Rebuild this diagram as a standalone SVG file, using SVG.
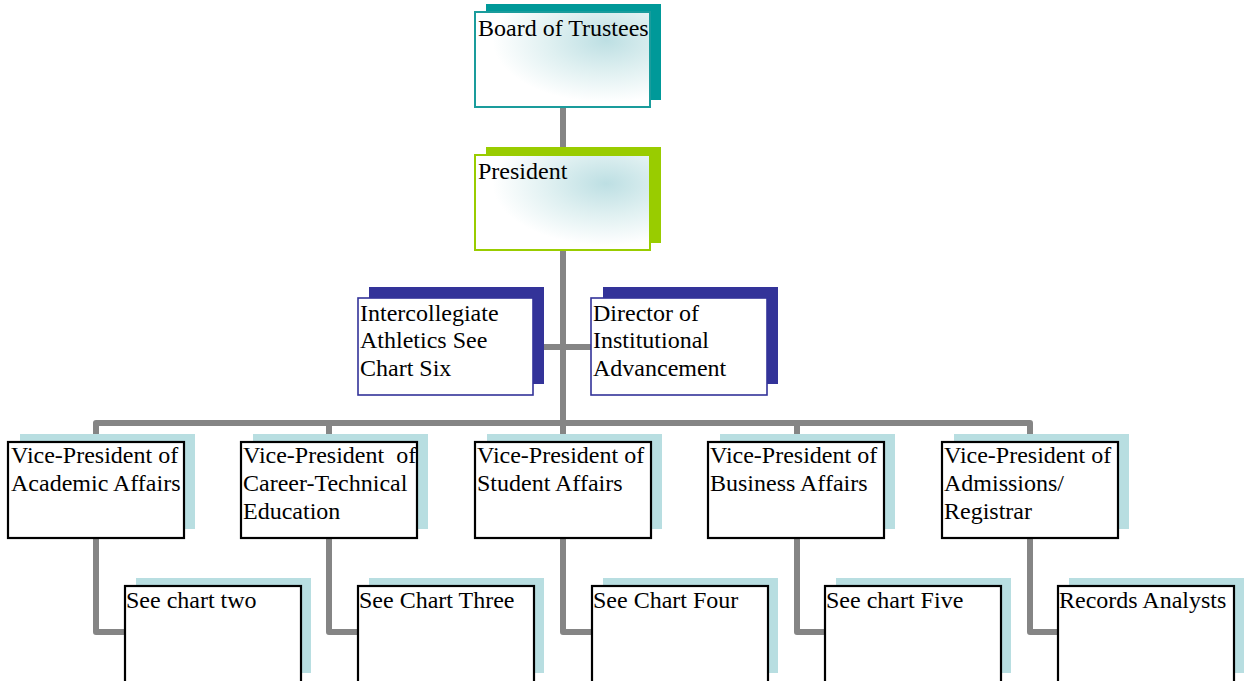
<svg xmlns="http://www.w3.org/2000/svg" width="1244" height="681" viewBox="0 0 1244 681">
<style>
text{font-family:"Liberation Serif","Times New Roman",serif;font-size:24px;fill:#000}
.conn{fill:none;stroke:#858585;stroke-width:6;stroke-linejoin:round;stroke-linecap:butt}
.shLight{fill:#b8dee1}
.box{fill:#fff;stroke:#000;stroke-width:2.2}
.navyS{fill:#333399}
.navyB{fill:#fff;stroke:#333399;stroke-width:1.6}
</style>
<defs>
<radialGradient id="glow" cx="0.75" cy="0.3" r="0.65">
<stop offset="0" stop-color="#bddfe3"/>
<stop offset="0.5" stop-color="#dff0f1"/>
<stop offset="1" stop-color="#ffffff"/>
</radialGradient>
</defs>
<rect width="1244" height="681" fill="#fff"/>
<g id="connectors">
<path class="conn" d="M563 108V155M563 251V423"/>
<path class="conn" d="M533 347H591"/>
<path class="conn" d="M96 442V423H1030V442M329 423V442M563 423V442M797 423V442"/>
<path class="conn" d="M96 538V632H125M329 538V632H358M563 538V632H592M797 538V632H825M1030 538V632H1058"/>
</g>
<g id="board">
<rect x="486" y="4" width="175" height="96" fill="#009999"/>
<rect x="475" y="12" width="175" height="95" fill="url(#glow)" stroke="#1a9c9c" stroke-width="2"/>
<text x="478" y="36">Board of Trustees</text>
</g>
<g id="president">
<rect x="486" y="147" width="175" height="96" fill="#99cc00"/>
<rect x="475" y="155" width="175" height="95" fill="url(#glow)" stroke="#99cc00" stroke-width="2"/>
<text x="478" y="179">President</text>
</g>
<g id="athletics">
<rect class="navyS" x="369" y="287" width="175" height="97"/>
<rect class="navyB" x="358" y="298" width="175" height="97"/>
<text x="360" y="321">Intercollegiate</text>
<text x="360" y="348">Athletics See</text>
<text x="360" y="376">Chart Six</text>
</g>
<g id="advancement">
<rect class="navyS" x="603" y="287" width="175" height="97"/>
<rect class="navyB" x="591" y="298" width="176" height="97"/>
<text x="593" y="321">Director of</text>
<text x="593" y="348">Institutional</text>
<text x="593" y="376">Advancement</text>
</g>
<g id="vp-academic">
<rect class="shLight" x="20" y="434" width="175" height="95"/>
<rect class="box" x="8" y="442" width="176" height="96"/>
<text x="11" y="463">Vice-President of</text>
<text x="11" y="491">Academic Affairs</text>
</g>
<g id="vp-career">
<rect class="shLight" x="253" y="434" width="175" height="95"/>
<rect class="box" x="241" y="442" width="176" height="96"/>
<text x="243" y="463" xml:space="preserve">Vice-President  of</text>
<text x="243" y="491">Career-Technical</text>
<text x="243" y="519">Education</text>
</g>
<g id="vp-student">
<rect class="shLight" x="487" y="434" width="175" height="95"/>
<rect class="box" x="475" y="442" width="176" height="96"/>
<text x="477" y="463">Vice-President of</text>
<text x="477" y="491">Student Affairs</text>
</g>
<g id="vp-business">
<rect class="shLight" x="720" y="434" width="175" height="95"/>
<rect class="box" x="708" y="442" width="176" height="96"/>
<text x="710" y="463">Vice-President of</text>
<text x="710" y="491">Business Affairs</text>
</g>
<g id="vp-admissions">
<rect class="shLight" x="954" y="434" width="175" height="95"/>
<rect class="box" x="942" y="442" width="176" height="96"/>
<text x="944" y="463">Vice-President of</text>
<text x="944" y="491">Admissions/</text>
<text x="944" y="519">Registrar</text>
</g>
<g id="chart-two">
<rect class="shLight" x="136" y="578" width="175" height="95"/>
<rect class="box" x="125" y="586" width="176" height="97"/>
<text x="126" y="608">See chart two</text>
</g>
<g id="chart-three">
<rect class="shLight" x="369" y="578" width="175" height="95"/>
<rect class="box" x="358" y="586" width="176" height="97"/>
<text x="359" y="608">See Chart Three</text>
</g>
<g id="chart-four">
<rect class="shLight" x="603" y="578" width="175" height="95"/>
<rect class="box" x="592" y="586" width="176" height="97"/>
<text x="593" y="608">See Chart Four</text>
</g>
<g id="chart-five">
<rect class="shLight" x="836" y="578" width="175" height="95"/>
<rect class="box" x="825" y="586" width="176" height="97"/>
<text x="826" y="608">See chart Five</text>
</g>
<g id="records">
<rect class="shLight" x="1069" y="578" width="175" height="95"/>
<rect class="box" x="1058" y="586" width="176" height="97"/>
<text x="1059" y="608">Records Analysts</text>
</g>
</svg>
